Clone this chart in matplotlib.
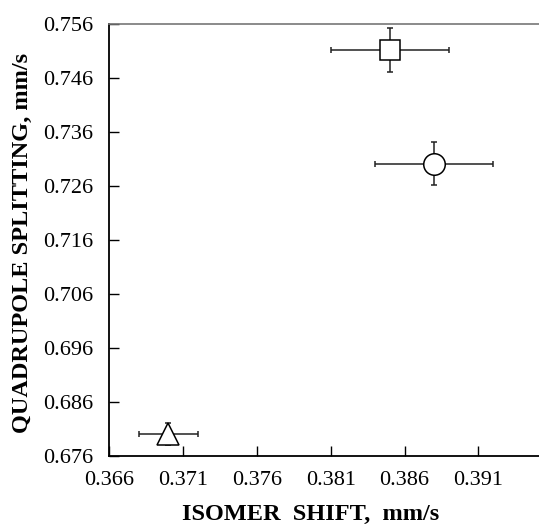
import matplotlib.pyplot as plt

plt.rcParams['font.family'] = ['Liberation Serif', 'DejaVu Serif']

# isomer shift, quadrupole splitting and their errors (mm/s)
labels = ['square', 'circle', 'triangle']
markers = ['s', 'o', '^']
iso_shift = [0.385, 0.388, 0.370]
quad_split = [0.7512, 0.7301, 0.6801]
iso_err = [0.004, 0.004, 0.002]
quad_err = [0.004, 0.004, 0.002]

xticks = [0.366, 0.371, 0.376, 0.381, 0.386, 0.391]
yticks = [0.676, 0.686, 0.696, 0.706, 0.716, 0.726, 0.736, 0.746, 0.756]

fig = plt.figure(figsize=(5.39, 5.28), dpi=100)
ax = fig.add_axes([109/539, 72/528, 1 - 109/539, 432/528])

sizes = {'s': 15, 'o': 15.5, '^': 16.5}
for x, y, xe, ye, m in zip(iso_shift, quad_split, iso_err, quad_err, markers):
    ax.errorbar(x, y, xerr=xe, yerr=ye, fmt=m, ms=sizes[m],
                mfc='white', mec='black', mew=1.1, ecolor='#222222',
                elinewidth=1.1, capsize=2.5, capthick=1.1, zorder=3)

ax.set_xlim(0.366, 0.3951)
ax.set_ylim(0.676, 0.756)
ax.set_xticks(xticks)
ax.set_yticks(yticks)
ax.set_xticklabels(['%.3f' % v for v in xticks])
ax.set_yticklabels(['%.3f' % v for v in yticks])
ax.tick_params(direction='in', length=7, width=1, labelsize=16)
ax.tick_params(axis='y', pad=11.5)
ax.tick_params(axis='x', pad=10.5)

ax.spines['right'].set_visible(False)
ax.spines['top'].set_color('#777777')
ax.spines['top'].set_linewidth(1.2)
ax.spines['left'].set_linewidth(1.3)
ax.spines['bottom'].set_linewidth(1.3)

fig.text(311/539, 1 - 514/528, 'ISOMER  SHIFT,  mm/s', ha='center', va='center',
         fontsize=17.5, fontweight='bold')
fig.text(22/539, 1 - 243/528, 'QUADRUPOLE SPLITTING, mm/s', ha='center', va='center',
         rotation=90, fontsize=17.5, fontweight='bold')

fig.savefig('out.png', dpi=100)
